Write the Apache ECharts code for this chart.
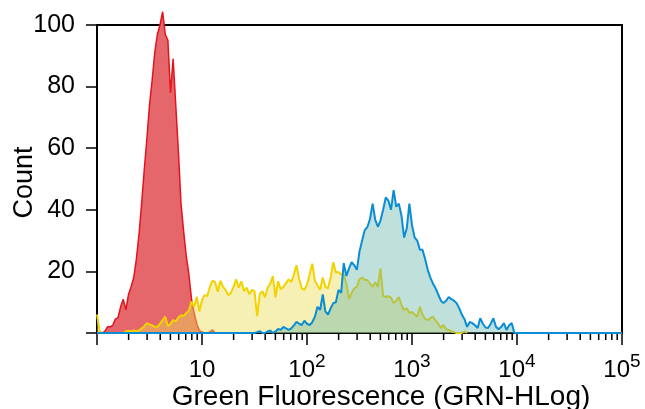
<!DOCTYPE html>
<html><head><meta charset="utf-8">
<script src="https://cdn.jsdelivr.net/npm/echarts@6/dist/echarts.min.js"></script>
<style>html,body{margin:0;padding:0;background:#fff}#c{width:645px;height:409px}</style>
</head><body><div id="c"></div><script>
const FONT = '"Liberation Sans", Arial, sans-serif';
// histogram channels: 40 channels per decade, channel 0 = 10^0
const channelsPerDecade = 40;
const decadeTicks = [0, 1, 2, 3, 4, 5];
const minorMultipliers = [2, 3, 4, 5, 6, 7, 8, 9];
const yTicks = [0, 20, 40, 60, 80, 100];
const xTitle = 'Green Fluorescence (GRN-HLog)';
const yTitle = 'Count';

const redCounts = [
  0,0,0,0.5,2,2,2.5,4.5,5,8.5,
  11,7.5,12.5,15,18,24,32,42,53,63,
  74,82,91,97,100,104.3,97,95,78,89,
  74,59,42,33,25,19,11,6.5,3,0.8,
  0.3,0,0,0.3,1,0
];
const yellowCounts = [
  6,0.5,0,0,0,0,0,0,0,0,
  0,0.5,0.7,0.6,0.8,0.6,0.8,1.5,2.2,3.2,
  2.8,2.5,2,2,3,4.2,5.3,2.2,3,4.2,
  3.8,5,5.8,5.5,6.5,7.2,10.2,8.5,11.8,7,
  10.7,12.3,12,15,17,16.5,13.4,17,15,14,
  12.3,13,15,17.4,14.7,16.8,13.6,14.7,12.6,14,
  13.6,5.5,12.6,13.6,11.6,14.7,16,18.5,11.6,16.8,
  14.2,15,16.2,17.4,16.5,19,22,17.5,14.5,14,
  15.8,19,22.5,17,15.5,14,18,15,14.5,18,
  23,19.6,19.8,19,19,16,11,13,14.5,15,
  17.5,18,17.2,17.2,16,15,16.5,15,21,12,
  11.7,12,11.5,9.7,10.5,11.7,9,7.5,8,6.5,
  6.8,6,5.3,8.5,6,4.5,4.2,4.8,5.3,4,
  3,1.6,2.6,1.2,1,0.5,0.3,0,0,0,
  0.5,0
];
const blueCounts = [
  0,0,0,0,0,0,0,0,0,0,
  0,0,0,0,0,0,0,0,0,0,
  0,0,0,0,0,0,0,0,0,0,
  0,0,0,0,0,0,0,0,0,0,
  0,0,0,0,0,0,0,0,0,0,
  0,0,0,0,0,0,0,0,0,0,
  0,0.3,0.6,0,0,0.5,0.8,0,0.5,1.3,
  1,2,1.5,1,1.5,2.5,3.6,3,2.6,4,
  3,2.6,3.5,5.3,8.5,7.5,12.5,7,6,8,
  9.7,10,14,13,22.7,18.5,21,23,22,20.5,
  26.5,30,33.4,34.4,37,42,36.7,34.5,36.5,40,
  44,43,40,46.4,41,42,38,31,34,42,
  35,31,30,27,27,24,20.5,18,16,14.5,
  12.5,10.5,9.7,10.5,11.7,11,10.5,9.7,8,6,
  4.5,2,3.6,3.2,2.5,1.6,4.8,3,1.8,1.6,
  3,4.8,2,1.2,2,3.2,1,2.5,3.2,0,
  0,0,0,0,0,0,0,0,0,0,
  0,0,0,0,0,0,0,0,0,0,
  0,0,0,0,0,0,0,0,0,0,
  0,0,0,0,0,0,0,0,0,0,
  0
];

function toPairs(counts) {
  return counts.map((c, i) => [i / channelsPerDecade, c]);
}

// layout
const GRID = {left: 97, right: 23, top: 25, bottom: 76};
const plotH = 409 - GRID.top - GRID.bottom;
const Y_MAX = 100;
// minor log-tick marks (2..9 of each decade), 7px long below the axis, expressed in count units
const minorTickLen = 7 * Y_MAX / plotH;
const minorTickData = [];
decadeTicks.slice(0, -1).forEach(d => minorMultipliers.forEach(m => {
  const v = d + Math.log10(m);
  minorTickData.push([v, -0.3], [v, -minorTickLen], '-');
}));

const chart = echarts.init(document.getElementById('c'), null, {renderer: 'canvas'});
chart.setOption({
  animation: false,
  backgroundColor: '#fff',
  textStyle: {fontFamily: FONT},
  grid: {left: GRID.left, right: GRID.right, top: GRID.top, bottom: GRID.bottom, containLabel: false, outerBoundsMode: 'none',
         show: true, borderColor: '#000', borderWidth: 2, backgroundColor: 'transparent'},
  xAxis: {
    type: 'value', min: 0, max: 5, interval: 1,
    axisLine: {show: true, lineStyle: {color: '#000', width: 2}},
    axisTick: {show: true, length: 12, lineStyle: {color: '#000', width: 1.5}},
    splitLine: {show: false},
    axisLabel: {
      margin: 19, color: '#000', fontFamily: FONT,
      formatter: v => v === 0 ? '' : (v === 1 ? '{b|10}' : '{b|10}{s|' + v + '}'),
      rich: {
        b: {fontSize: 24, lineHeight: 37, color: '#000', fontFamily: FONT},
        s: {fontSize: 19, lineHeight: 19, verticalAlign: 'top', color: '#000', fontFamily: FONT}
      }
    },
    name: xTitle, nameLocation: 'middle', nameGap: 50, nameMoveOverlap: false,
    nameTextStyle: {fontSize: 28, color: '#000', fontFamily: FONT, padding: [0, 0, 0, 43]}
  },
  yAxis: {
    type: 'value', min: 0, max: Y_MAX, interval: 20,
    axisLine: {show: true, lineStyle: {color: '#000', width: 2}},
    axisTick: {show: true, length: 11, lineStyle: {color: '#000', width: 1.5}},
    splitLine: {show: false},
    axisLabel: {margin: 22, fontSize: 25, color: '#000', fontFamily: FONT, formatter: v => v === 0 ? '' : String(v)},
    name: yTitle, nameLocation: 'middle', nameGap: 59, nameRotate: 90, nameMoveOverlap: false,
    nameTextStyle: {fontSize: 27, color: '#000', fontFamily: FONT, padding: [0, 7, 0, 0]}
  },
  series: [{
    name: 'red', type: 'line', data: toPairs(redCounts), showSymbol: false, clip: false,
    lineStyle: {color: '#e5131b', width: 1.5}, areaStyle: {color: '#e5666b', opacity: 1}, z: 2
  }, {
    name: 'yellow', type: 'line', data: toPairs(yellowCounts), showSymbol: false,
    lineStyle: {color: '#f2d300', width: 2}, areaStyle: {color: 'rgb(235,222,88)', opacity: 0.45}, z: 3
  }, {
    name: 'blue', type: 'line', data: toPairs(blueCounts), showSymbol: false,
    lineStyle: {color: '#0b8dd5', width: 2}, areaStyle: {color: 'rgb(97,177,167)', opacity: 0.4}, z: 4
  }, {
    name: 'minorTicks', type: 'line', data: minorTickData, showSymbol: false, clip: false,
    connectNulls: false, silent: true, z: 5,
    lineStyle: {color: '#000', width: 1.5}
  }]
});
</script></body></html>
